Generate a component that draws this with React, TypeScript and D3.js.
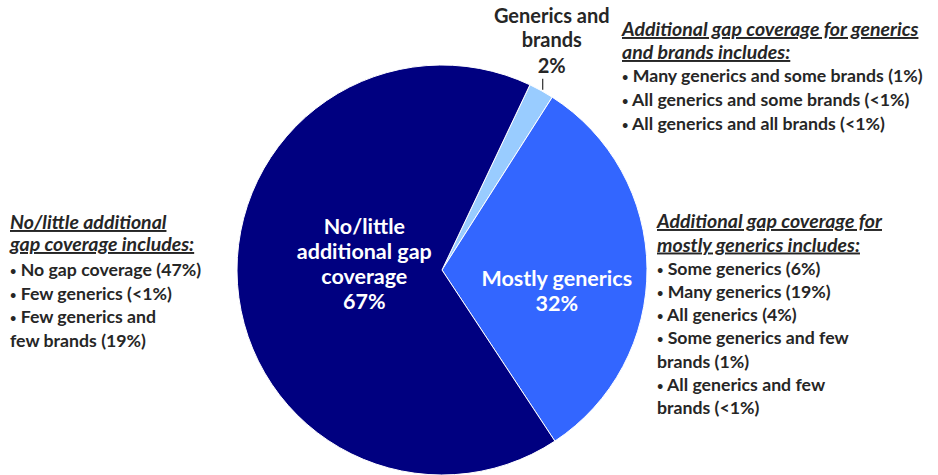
import React from "react";
import * as d3 from "d3";

const categories = ["Generics and brands", "Mostly generics", "No/little additional gap coverage"];
const values = [2, 32, 67];
const colors = ["#99CCFF", "#3366FF", "#000080"];

const topRightTitle = ["Additional gap coverage for generics", "and brands includes:"];
const topRightItems = [
  "• Many generics and some brands (1%)",
  "• All generics and some brands (<1%)",
  "• All generics and all brands (<1%)",
];
const midRightTitle = ["Additional gap coverage for", "mostly generics includes:"];
const midRightItems = [
  "• Some generics (6%)",
  "• Many generics (19%)",
  "• All generics (4%)",
  "• Some generics and few",
  "brands (1%)",
  "• All generics and few",
  "brands (<1%)",
];
const leftTitle = ["No/little additional", "gap coverage includes:"];
const leftItems = [
  "• No gap coverage (47%)",
  "• Few generics (<1%)",
  "• Few generics and",
  "few brands (19%)",
];

const W = 938;
const H = 475;
const cx = 442;
const cy = 270;
const R = 205;
const FONT = "Lato, 'Noto Sans', sans-serif";
const TXT = "#262626";

function Item({ x, y, t, size }: any) {
  if (t.startsWith("• ")) {
    return (
      <text x={x} y={y}>
        <tspan fontSize={size * 0.62} dy={-1}>•</tspan>
        <tspan dy={1}>{" " + t.slice(2)}</tspan>
      </text>
    );
  }
  return (
    <text x={x} y={y}>
      {t}
    </text>
  );
}

function Block({ x, y, title, items, titleStep, itemStep, gap, tSize, iSize }: any) {
  return (
    <g fontFamily={FONT} fontWeight="bold" fill={TXT}>
      {title.map((t: string, i: number) => (
        <text key={"t" + i} x={x} y={y + i * titleStep} fontSize={tSize} fontStyle="italic" textDecoration="underline">
          {t}
        </text>
      ))}
      <g fontSize={iSize}>
        {items.map((t: string, i: number) => (
          <Item key={"i" + i} x={x} y={y + (title.length - 1) * titleStep + gap + i * itemStep} t={t} size={iSize} />
        ))}
      </g>
    </g>
  );
}

export default function App() {
  const start = (25.4 * Math.PI) / 180;
  const pie = d3.pie<number>().sort(null).startAngle(start).endAngle(start + 2 * Math.PI);
  const arcs = pie(values);
  const arc = d3.arc<d3.PieArcDatum<number>>().innerRadius(0).outerRadius(R);

  const a0 = arcs[0];
  const mid0 = (a0.startAngle + a0.endAngle) / 2;
  const edge0 = [Math.sin(mid0) * (R + 1), -Math.cos(mid0) * (R + 1)];

  const navyC = d3.arc<d3.PieArcDatum<number>>().innerRadius(0).outerRadius(R * 0.76).centroid(arcs[2]);
  const mostlyC = d3.arc<d3.PieArcDatum<number>>().innerRadius(R * 0.56).outerRadius(R * 0.56).centroid(arcs[1]);

  return (
    <svg width={W} height={H} style={{ position: "absolute", left: 0, top: 0 }}>
      <rect width={W} height={H} fill="#fff" />
      <g transform={`translate(${cx},${cy})`}>
        {arcs.map((a, i) => (
          <path key={i} d={arc(a) || ""} fill={colors[i]} stroke="#fff" strokeWidth={1} />
        ))}
        <line x1={edge0[0] + 1} y1={edge0[1]} x2={edge0[0] + 1} y2={edge0[1] - 11} stroke="#000" strokeWidth={1} />
        <g fontFamily={FONT} fontWeight="bold" fill={TXT} fontSize={20} textAnchor="middle">
          <text x={edge0[0] + 10} y={edge0[1] - 67}>Generics and</text>
          <text x={edge0[0] + 10} y={edge0[1] - 43}>brands</text>
          <text x={edge0[0] + 10} y={edge0[1] - 17}>{values[0]}%</text>
        </g>
        <g fontFamily={FONT} fontWeight="bold" fill="#fff" fontSize={21.5} textAnchor="middle">
          <text x={navyC[0]} y={navyC[1] - 41}>No/little</text>
          <text x={navyC[0]} y={navyC[1] - 16}>additional gap</text>
          <text x={navyC[0]} y={navyC[1] + 9}>coverage</text>
          <text x={navyC[0]} y={navyC[1] + 34}>{values[2]}%</text>
        </g>
        <g fontFamily={FONT} fontWeight="bold" fill="#fff" fontSize={21.5} textAnchor="middle">
          <text x={mostlyC[0]} y={mostlyC[1] + 17}>Mostly generics</text>
          <text x={mostlyC[0]} y={mostlyC[1] + 42}>{values[1]}%</text>
        </g>
      </g>
      <Block x={622} y={36} title={topRightTitle} items={topRightItems} titleStep={23} itemStep={24} gap={23} tSize={19.5} iSize={17.7} />
      <Block x={657} y={228} title={midRightTitle} items={midRightItems} titleStep={23.5} itemStep={23.3} gap={23} tSize={19.5} iSize={17.7} />
      <Block x={10} y={229} title={leftTitle} items={leftItems} titleStep={22} itemStep={23.5} gap={25} tSize={19.5} iSize={17.7} />
    </svg>
  );
}
